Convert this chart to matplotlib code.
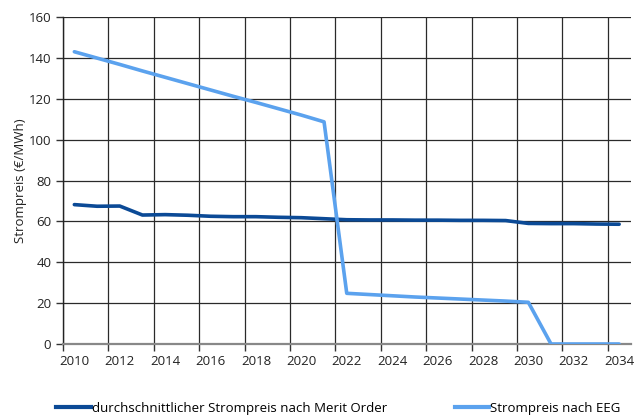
import numpy as np
import matplotlib.pyplot as plt
from matplotlib.lines import Line2D

plt.rcParams['font.family'] = ['Open Sans', 'DejaVu Sans']

years = list(range(2010, 2035))
merit_order = [68.2, 67.4, 67.5, 63.1, 63.3, 63.0, 62.5, 62.3, 62.3, 62.0, 61.8, 61.3,
               60.8, 60.7, 60.7, 60.6, 60.6, 60.5, 60.5, 60.4, 59.0, 58.9, 58.9, 58.7, 58.6]
eeg = [143.0, 139.9, 136.8, 133.6, 130.5, 127.4, 124.3, 121.2, 118.2, 115.1, 112.0, 108.7,
       24.8, 24.2, 23.6, 23.0, 22.5, 22.0, 21.5, 21.0, 20.4, 0.0, 0.0, 0.0, 0.0]
label_merit = "durchschnittlicher Strompreis nach Merit Order"
label_eeg = "Strompreis nach EEG"

c_dark = '#0b4a96'
c_light = '#5ba2ee'

fig = plt.figure(figsize=(6.35, 4.16), dpi=100)
ax = fig.add_axes([63 / 635, 72 / 416, 567.5 / 635, 327 / 416])

ax.plot(years, merit_order, color=c_dark, lw=2.6, solid_capstyle='round', zorder=3)
ax.plot(years, eeg, color=c_light, lw=2.6, solid_capstyle='round', zorder=3)

ax.set_xlim(2009.5, 2034.5)
ax.set_ylim(0, 160)

# gridlines on category boundaries, labels on every other year
bounds = np.arange(2009.5, 2034.5, 2)
ax.set_xticks(bounds)
ax.set_xticklabels([])
ax.set_xticks(years[::2], minor=True)
ax.set_xticklabels([str(y) for y in years[::2]], minor=True)
ax.tick_params(axis='x', which='minor', length=0, pad=8, labelsize=9.5, colors='#222222')
ax.tick_params(axis='x', which='major', length=5, width=1, color='#333333', direction='out')
ax.set_yticks(range(0, 161, 20))
ax.tick_params(axis='y', length=5, width=1, color='#333333', labelsize=9.5, labelcolor='#222222')

ax.grid(True, which='major', color='#2a2a2a', lw=0.9)
ax.set_axisbelow(True)
for s in ['top', 'right']:
    ax.spines[s].set_visible(False)
ax.spines['left'].set_color('#222222')
ax.spines['left'].set_linewidth(1)
ax.spines['bottom'].set_color('#888888')
ax.spines['bottom'].set_linewidth(1.6)

ax.set_ylabel("Strompreis (€/MWh)", fontsize=9.5, color='#222222', labelpad=1)

handles = [Line2D([], [], color=c_dark, lw=3),
           Line2D([], [], color=c_light, lw=3)]
fig.legend(handles, [label_merit, label_eeg], loc='center', bbox_to_anchor=(0.533, 0.019),
           ncol=2, frameon=False, fontsize=9.5, handlelength=2.6, handletextpad=0.1,
           columnspacing=5.1, borderaxespad=0)

fig.savefig('out.png', dpi=100)
